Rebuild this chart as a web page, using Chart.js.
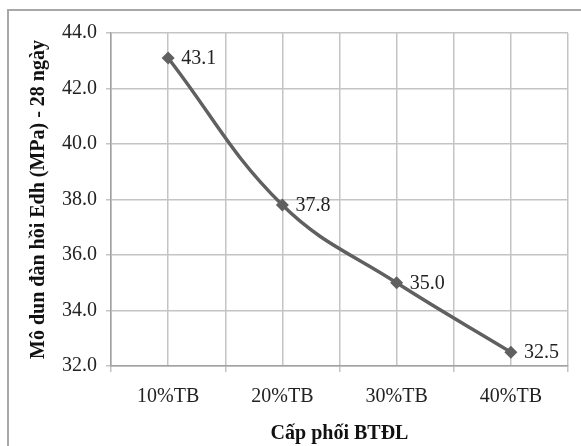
<!DOCTYPE html>
<html>
<head>
<meta charset="utf-8">
<script src="https://cdn.jsdelivr.net/npm/chart.js@4.4.1/dist/chart.umd.min.js"></script>
<style>
  body { margin: 0; background: #fff; }
</style>
</head>
<body>
<canvas id="modulusChart" width="581" height="446"></canvas>
<script>
const mixLabels = ['10%TB', '20%TB', '30%TB', '40%TB'];
const modulusValues = [43.1, 37.8, 35.0, 32.5];
const yTicks = [32, 34, 36, 38, 40, 42, 44];

const gridColor = '#c4c4c4';
const lineColor = '#606060';
const serif = "'Liberation Serif', 'Times New Roman', serif";

// outer frame of the picture
const framePlugin = {
    id: 'frame',
    beforeDraw(chart) {
        const ctx = chart.ctx;
        ctx.save();
        ctx.fillStyle = '#fff';
        ctx.fillRect(0, 0, chart.width, chart.height);
        ctx.strokeStyle = '#a8a8a8';
        ctx.lineWidth = 2;
        ctx.beginPath();
        ctx.moveTo(8, chart.height + 2);
        ctx.lineTo(8, 10);
        ctx.lineTo(chart.width + 2, 10);
        ctx.stroke();
        ctx.restore();
    }
};

// value labels next to the points
const valueLabels = {
    id: 'valueLabels',
    afterDatasetsDraw(chart) {
        const ctx = chart.ctx;
        const meta = chart.getDatasetMeta(0);
        ctx.save();
        ctx.font = '20px ' + serif;
        ctx.fillStyle = '#222';
        ctx.textAlign = 'left';
        ctx.textBaseline = 'middle';
        meta.data.forEach((pt, i) => {
            ctx.fillText(modulusValues[i].toFixed(1), pt.x + 13, pt.y + 1);
        });
        ctx.restore();
    }
};

const ctx = document.getElementById('modulusChart').getContext('2d');
new Chart(ctx, {
    type: 'line',
    data: {
        labels: mixLabels,
        datasets: [{
            data: modulusValues,
            borderColor: lineColor,
            borderWidth: 3.5,
            tension: 0.4,
            pointStyle: 'rectRot',
            pointRadius: 6.5,
            pointBackgroundColor: lineColor,
            pointBorderColor: lineColor,
            pointBorderWidth: 0
        }]
    },
    options: {
        responsive: false,
        animation: false,
        layout: { padding: { left: 27, right: 13, top: 33, bottom: 0 } },
        plugins: {
            legend: { display: false },
            tooltip: { enabled: false }
        },
        scales: {
            x: {
                type: 'category',
                offset: true,
                grid: { offset: true, color: gridColor, lineWidth: 1.5, tickLength: 6 },
                border: { color: '#a0a0a0', width: 1.5 },
                ticks: { font: { family: serif, size: 20 }, color: '#222', padding: 13 },
                title: {
                    display: true,
                    text: 'Cấp phối BTĐL',
                    font: { family: serif, size: 20, weight: 'bold' },
                    color: '#111',
                    padding: { top: 0, bottom: 0 }
                },
                afterFit(scale) { scale.height = 80; }
            },
            xc: {
                type: 'category',
                labels: mixLabels,
                position: 'top',
                offset: true,
                grid: { offset: false, color: gridColor, lineWidth: 1.5, drawTicks: false },
                border: { display: false },
                ticks: { display: false },
                afterFit(scale) { scale.height = 0; }
            },
            y: {
                min: 32,
                max: 44,
                afterBuildTicks(scale) { scale.ticks = yTicks.map(v => ({ value: v })); },
                grid: { color: gridColor, lineWidth: 1.5, tickLength: 5 },
                border: { color: '#a0a0a0', width: 1.5 },
                ticks: {
                    font: { family: serif, size: 20 },
                    color: '#222',
                    padding: 9,
                    callback: v => Number(v).toFixed(1)
                },
                title: {
                    display: true,
                    text: 'Mô dun đàn hồi Edh (MPa) - 28 ngày',
                    font: { family: serif, size: 20, weight: 'bold' },
                    color: '#111',
                    padding: { top: 0, bottom: 4 }
                },
                afterFit(scale) { scale.width = 84; }
            }
        }
    },
    plugins: [framePlugin, valueLabels]
});
</script>
</body>
</html>
